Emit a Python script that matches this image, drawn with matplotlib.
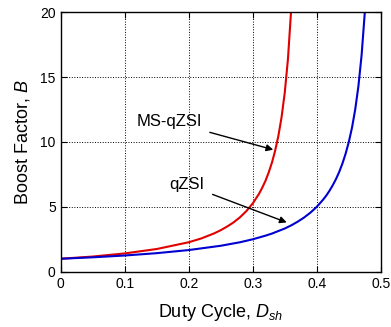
import matplotlib
matplotlib.use('Agg')
import matplotlib.pyplot as plt

plt.rcParams['font.family'] = ['Liberation Sans', 'DejaVu Sans']
plt.rcParams['mathtext.fontset'] = 'custom'
plt.rcParams['mathtext.it'] = 'Liberation Sans:italic'
plt.rcParams['mathtext.rm'] = 'Liberation Sans'

# qZSI boost factor (blue)
d_qzsi = [0, 0.05, 0.1, 0.15, 0.2, 0.25, 0.28, 0.3, 0.32, 0.33, 0.35, 0.36,
          0.37, 0.38, 0.39, 0.40, 0.41, 0.415, 0.42, 0.425, 0.43, 0.435, 0.44,
          0.445, 0.45, 0.455, 0.46, 0.465, 0.47, 0.475]
b_qzsi = [1.0, 1.11, 1.25, 1.43, 1.67, 2.0, 2.27, 2.5, 2.78, 2.94, 3.33, 3.57,
          3.85, 4.17, 4.55, 5.0, 5.56, 5.88, 6.25, 6.67, 7.14, 7.69, 8.33,
          9.09, 10.0, 11.1, 12.5, 14.3, 16.7, 20.0]

# MS-qZSI boost factor (red)
d_ms = [0, 0.05, 0.1, 0.15, 0.2, 0.22, 0.24, 0.25, 0.26, 0.27, 0.28, 0.29,
        0.3, 0.31, 0.315, 0.32, 0.325, 0.33, 0.335, 0.34, 0.345, 0.35, 0.355,
        0.36]
b_ms = [1.0, 1.17, 1.41, 1.75, 2.27, 2.57, 2.96, 3.2, 3.48, 3.80, 4.19, 4.67,
        5.26, 6.02, 6.49, 7.02, 7.66, 8.41, 9.33, 10.46, 11.9, 13.8, 16.4,
        20.2]

fig = plt.figure(figsize=(3.91, 3.27), dpi=100)
ax = fig.add_axes([0.155, 0.169, 0.819, 0.794])

ax.plot(d_ms, b_ms, color='#e00000', lw=1.5)
ax.plot(d_qzsi, b_qzsi, color='#0000d0', lw=1.5)

ax.set_xlim(0, 0.5)
ax.set_ylim(0, 20)
ax.set_xticks([0, 0.1, 0.2, 0.3, 0.4, 0.5])
ax.set_xticklabels(['0', '0.1', '0.2', '0.3', '0.4', '0.5'])
ax.set_yticks([0, 5, 10, 15, 20])
ax.grid(True, color='black', linestyle=':', linewidth=0.7)
ax.tick_params(direction='in', labelsize=10, length=4, top=True, right=True)
for s in ax.spines.values():
    s.set_linewidth(1.0)

ax.set_xlabel('Duty Cycle, $D_{sh}$', fontsize=13, labelpad=8)
ax.set_ylabel('Boost Factor, $B$', fontsize=13, labelpad=6)

ax.annotate('MS-qZSI', xy=(0.332, 9.4), xytext=(0.118, 11.6),
            fontsize=12, va='center',
            arrowprops=dict(arrowstyle='-|>', color='black', lw=1.0,
                            shrinkA=4, shrinkB=0, mutation_scale=10),
            )
ax.annotate('qZSI', xy=(0.353, 3.8), xytext=(0.17, 6.7),
            fontsize=12, va='center',
            arrowprops=dict(arrowstyle='-|>', color='black', lw=1.0,
                            shrinkA=4, shrinkB=0, mutation_scale=10),
            )

fig.savefig('out.png', dpi=100)
